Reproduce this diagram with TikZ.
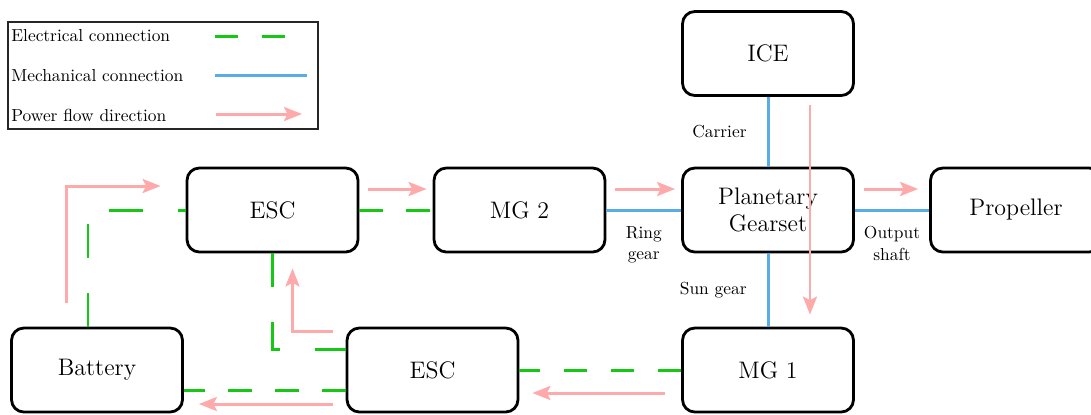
\documentclass[tikz,border=0pt]{standalone}
\usetikzlibrary{arrows.meta}

\definecolor{elecgreen}{RGB}{20,200,20}
\definecolor{mechblue}{RGB}{90,172,230}
\definecolor{flowpink}{RGB}{255,170,170}

\begin{document}
\begin{tikzpicture}[x=0.02cm, y=-0.02cm,
  box/.style={draw, line width=1.6pt, rounded corners=7pt,
              minimum width=3.42cm, minimum height=1.68cm,
              align=center, font=\fontsize{13.6}{15.5}\selectfont},
  elec/.style={draw=elecgreen, line width=1.7pt, dash pattern=on 0.47cm off 0.47cm},
  elecl/.style={elec, dash pattern=on 0.68cm off 0.7cm},
  mech/.style={draw=mechblue, line width=1.7pt},
  flow/.style={draw=flowpink, line width=1.7pt,
               -{Stealth[length=0.36cm, width=0.28cm, inset=0.07cm]}},
  lbl/.style={font=\fontsize{9.9}{12.5}\selectfont, align=center},
  leg/.style={anchor=west, inner sep=0pt, font=\fontsize{9.9}{12}\selectfont}
]
  \useasboundingbox (0,0) rectangle (1091,414);

  % legend
  \draw[line width=0.9pt, draw=black!85] (8,22) rectangle (318,129);
  \node[leg] (lelec) at (11,36)  {Electrical connection};
  \node[leg] (lmech) at (11,76)  {Mechanical connection};
  \node[leg] (lflow) at (11,115) {Power flow direction};
  \coordinate (e1) at (215,36);  \coordinate (e2) at (285,36);
  \coordinate (m1) at (215,75);  \coordinate (m2) at (307,75);
  \coordinate (f1) at (216,114); \coordinate (f2) at (302,114);
  \draw[elec] (e1) -- (e2);
  \draw[mech] (m1) -- (m2);
  \draw[flow] (f1) -- (f2);

  % blocks
  \node[box] (ice)  at (768,53.5) {ICE};
  \node[box] (esc1) at (272.5,210) {ESC};
  \node[box] (mg2)  at (519.5,210) {MG 2};
  \node[box] (pg)   at (768,210)   {Planetary\\Gearset};
  \node[box] (prop) at (1016,210)  {Propeller};
  \node[box] (bat)  at (97,370)    {Battery};
  \node[box] (esc2) at (432.5,370) {ESC};
  \node[box] (mg1)  at (768,370)   {MG 1};

  % mechanical links
  \draw[mech] (ice.south) -- node[lbl, left=8pt] (lcar) {Carrier} (pg.north);
  \draw[mech] (mg2.east) -- node[lbl, below=5pt] (lring) {Ring\\gear} (pg.west);
  \draw[mech] (pg.east) -- node[lbl, below=5pt] (lout) {Output\\shaft} (prop.west);
  \draw[mech] (pg.south) -- node[lbl, left=8pt] (lsun) {Sun gear} (mg1.north);

  % electrical links
  \draw[elecl] ([xshift=-0.18cm]bat.north) |- (esc1.west);
  \draw[elec] (esc1.east) -- (mg2.west);
  \draw[elecl] (esc1.south) |- ([yshift=0.42cm]esc2.west);
  \draw[elec] ([yshift=-0.4cm]esc2.west) -- ([yshift=-0.4cm]bat.east);
  \draw[elec] (mg1.west) -- (esc2.east);

  % power flow
  \draw[flow] ([xshift=0.18cm, yshift=0.42cm]esc1.east) -- ([xshift=-0.12cm, yshift=0.42cm]mg2.west);
  \draw[flow] ([xshift=0.18cm, yshift=0.42cm]mg2.east) -- ([xshift=-0.12cm, yshift=0.42cm]pg.west);
  \draw[flow] ([xshift=0.18cm, yshift=0.42cm]pg.east) -- ([xshift=-0.22cm, yshift=0.42cm]prop.west);
  \draw[flow] ([xshift=0.84cm, yshift=-0.16cm]ice.south) -- ([xshift=0.84cm, yshift=0.24cm]mg1.north);
  \draw[flow] ([xshift=-0.32cm, yshift=-0.46cm]mg1.west) -- ([xshift=0.26cm, yshift=-0.46cm]esc2.east);
  \draw[flow] ([xshift=-0.26cm, yshift=-0.68cm]esc2.west) -- ([xshift=0.3cm, yshift=-0.68cm]bat.east);
  \draw[flow] ([xshift=-0.26cm, yshift=0.78cm]esc2.west) -| ([xshift=0.4cm, yshift=-0.3cm]esc1.south);
  \draw[flow] ([xshift=-0.62cm, yshift=0.48cm]bat.north) |- ([xshift=-0.5cm, yshift=0.48cm]esc1.west);
\end{tikzpicture}
\end{document}
